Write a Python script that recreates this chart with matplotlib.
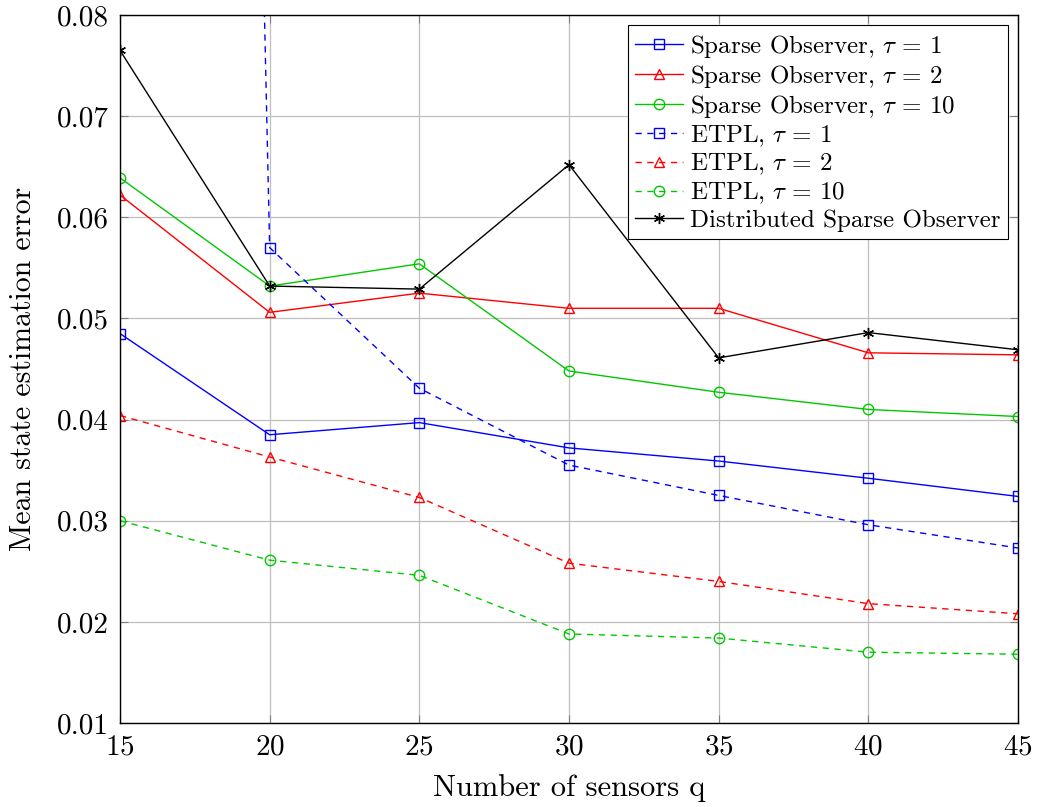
import matplotlib
matplotlib.use("Agg")
import matplotlib.pyplot as plt
from matplotlib.ticker import FormatStrFormatter

plt.rcParams["font.family"] = ["cmr10", "DejaVu Serif"]
plt.rcParams["mathtext.fontset"] = "cm"
plt.rcParams["axes.formatter.use_mathtext"] = True

sensors = [15, 20, 25, 30, 35, 40, 45]

so_tau1 = [0.0485, 0.0385, 0.0397, 0.0372, 0.0359, 0.0342, 0.0324]
so_tau2 = [0.0622, 0.0506, 0.0525, 0.0510, 0.0510, 0.0466, 0.0464]
so_tau10 = [0.0639, 0.0532, 0.0554, 0.0448, 0.0427, 0.0410, 0.0403]
etpl_tau1 = [0.72, 0.0570, 0.0431, 0.0355, 0.0325, 0.0296, 0.0273]
etpl_tau2 = [0.0404, 0.0363, 0.0323, 0.0258, 0.0240, 0.0218, 0.0208]
etpl_tau10 = [0.0300, 0.0261, 0.0246, 0.0188, 0.0184, 0.0170, 0.0168]
distributed = [0.0765, 0.0532, 0.0529, 0.0652, 0.0461, 0.0486, 0.0469]

y_ticks = [0.01, 0.02, 0.03, 0.04, 0.05, 0.06, 0.07, 0.08]
x_ticks = [15, 20, 25, 30, 35, 40, 45]

blue = "#0000ff"
red = "#ff0000"
green = "#00c800"

fig = plt.figure(figsize=(10.44, 8.07), dpi=100)
ax = fig.add_axes([120 / 1044, 1 - 723 / 807, 898 / 1044, 708 / 807])

lw = 1.0
ms = 7.5
common = dict(lw=lw, markersize=ms, markerfacecolor="none", markeredgewidth=1.0)

ax.plot(sensors, so_tau1, "-", color=blue, marker="s",
        label=r"Sparse Observer, $\tau\,=\,1$", **common)
ax.plot(sensors, so_tau2, "-", color=red, marker="^",
        label=r"Sparse Observer, $\tau\,=\,2$", **common)
ax.plot(sensors, so_tau10, "-", color=green, marker="o",
        label=r"Sparse Observer, $\tau\,=\,10$", **common)
ax.plot(sensors, etpl_tau1, "--", color=blue, marker="s", dashes=(4.5, 4),
        label=r"ETPL, $\tau\,=\,1$", **common)
ax.plot(sensors, etpl_tau2, "--", color=red, marker="^", dashes=(4.5, 4),
        label=r"ETPL, $\tau\,=\,2$", **common)
ax.plot(sensors, etpl_tau10, "--", color=green, marker="o", dashes=(4.5, 4),
        label=r"ETPL, $\tau\,=\,10$", **common)
ax.plot(sensors, distributed, "-", color="black", marker=(6, 2, 0),
        lw=lw, markersize=8, markeredgewidth=1.0,
        label="Distributed Sparse Observer")

ax.set_xlim(15, 45)
ax.set_ylim(0.01, 0.08)
ax.set_xticks(x_ticks)
ax.set_yticks(y_ticks)
ax.yaxis.set_major_formatter(FormatStrFormatter("%.2f"))
ax.grid(True, color="#bfbfbf", lw=0.9)
ax.set_axisbelow(True)
ax.tick_params(direction="in", length=6, width=0.8, color="#7f7f7f",
               labelsize=21, top=True, right=True, pad=8)
for s in ax.spines.values():
    s.set_linewidth(1.0)

ax.set_xlabel("Number of sensors q", fontsize=22, labelpad=10)
ax.set_ylabel("Mean state estimation error", fontsize=21.5, labelpad=14)

leg = ax.legend(loc="upper right", fontsize=18, frameon=True, fancybox=False,
                edgecolor="black", framealpha=1, borderpad=0.3,
                labelspacing=0.13, handlelength=1.9, handletextpad=0.3,
                borderaxespad=0.4)
leg.get_frame().set_linewidth(0.8)

fig.savefig("out.png", dpi=100)
